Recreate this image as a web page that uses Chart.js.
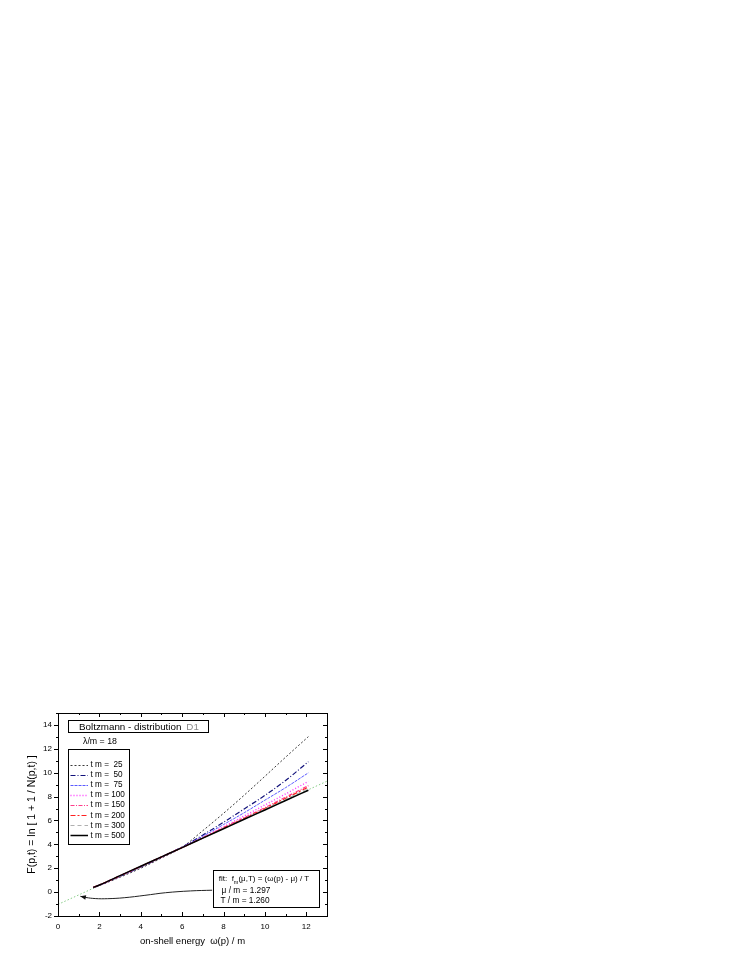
<!DOCTYPE html>
<html>
<head>
<meta charset="utf-8">
<script src="https://cdn.jsdelivr.net/npm/chart.js@4/dist/chart.umd.min.js"></script>
<style>
  html,body{margin:0;padding:0;background:#fff}
  #wrap{position:relative;width:747px;height:967px}
</style>
</head>
<body>
<div id="wrap"><canvas id="c" width="747" height="967"></canvas></div>
<script>
// omega(p)/m sample points of the simulation curves
const xs = [1.7, 2, 3, 4, 5, 6, 7, 8, 9, 10, 11, 12.1];

// F(p,t), one list per time t m
const tm25  = [0.38, 0.55, 1.25, 2.00, 2.85, 3.76, 5.15, 6.60, 8.12, 9.70, 11.30, 13.02];
const tm50  = [0.38, 0.57, 1.33, 2.10, 2.92, 3.78, 4.78, 5.85, 6.97, 8.10, 9.35, 10.92];
const tm75  = [0.38, 0.58, 1.34, 2.12, 2.93, 3.76, 4.68, 5.66, 6.65, 7.70, 8.75, 9.99];
const tm100 = [0.39, 0.59, 1.36, 2.14, 2.94, 3.74, 4.58, 5.48, 6.38, 7.30, 8.22, 9.28];
const tm150 = [0.39, 0.59, 1.37, 2.15, 2.94, 3.74, 4.55, 5.40, 6.24, 7.08, 7.95, 8.92];
const tm200 = [0.39, 0.60, 1.37, 2.16, 2.95, 3.73, 4.54, 5.36, 6.18, 7.00, 7.85, 8.80];
const tm300 = [0.39, 0.60, 1.38, 2.16, 2.95, 3.73, 4.53, 5.34, 6.15, 6.95, 7.78, 8.68];
const tm500 = [0.39, 0.60, 1.38, 2.17, 2.95, 3.73, 4.52, 5.31, 6.10, 6.88, 7.67, 8.53];

const labels = ["t m =  25","t m =  50","t m =  75","t m = 100","t m = 150","t m = 200","t m = 300","t m = 500"];
const curves = [tm25, tm50, tm75, tm100, tm150, tm200, tm300, tm500];

// fitted straight line (green dotted), end points
const fitX = [0, 13];
const fitY = [-1.03, 9.29];

// arrow from the fit box to the zero crossing
const arrowX = [7.45, 6.4, 5.2, 4.2, 3.2, 2.4, 1.8, 1.35, 1.08];
const arrowY = [0.16, 0.10, -0.05, -0.27, -0.47, -0.55, -0.54, -0.45, -0.35];

const xTicks = [0, 2, 4, 6, 8, 10, 12];
const yTicks = [-2, 0, 2, 4, 6, 8, 10, 12, 14];

const FONT = "'Liberation Sans', Arial, sans-serif";

const looks = [
  {color:"#3a3a3a", dash:[2,2],         width:1},
  {color:"#10107a", dash:[5,2,1,2],     width:1.2},
  {color:"#5a5aff", dash:[3,1],         width:1},
  {color:"#ff33ff", dash:[1,2],         width:1.4},
  {color:"#ff3d8a", dash:[4,1.5,1,1.5], width:1.2},
  {color:"#ff2020", dash:[5,2,2,2],     width:1.2},
  {color:"#b0b0b0", dash:[4,3],         width:1},
  {color:"#000000", dash:[],            width:1.5}
];

function pts(xv, yv){ return xv.map((x,i)=>({x, y:yv[i]})); }

const datasets = [];
curves.forEach((c,i)=>{
  datasets.push({
    label: labels[i],
    data: pts(xs, c),
    borderColor: looks[i].color,
    borderDash: looks[i].dash,
    borderWidth: looks[i].width,
    pointRadius: 0,
    cubicInterpolationMode: "monotone",
    order: curves.length - i
  });
});
datasets.push({
  label: "fit",
  data: pts(fitX, fitY),
  borderColor: "#86cc86",
  borderDash: [1.5,2],
  borderWidth: 1,
  pointRadius: 0,
  order: 20
});
datasets.push({
  label: "arrow",
  data: pts(arrowX, arrowY),
  borderColor: "#222",
  borderWidth: 1,
  pointRadius: 0,
  tension: 0.4,
  order: 0
});

// frame, inward ticks, boxes, legend and notes
const decor = {
  id: "decor",
  afterDraw(chart){
    const ctx = chart.ctx, a = chart.chartArea;
    const sx = chart.scales.x, sy = chart.scales.y;
    ctx.save();
    ctx.strokeStyle = "#000";
    ctx.lineWidth = 1;
    ctx.strokeRect(a.left+0.5, a.top+0.5, a.right-a.left, a.bottom-a.top);

    ctx.beginPath();
    for(let v=0; v<=13; v++){
      const p = Math.round(sx.getPixelForValue(v))+0.5;
      const len = v%2===0 ? 4 : 2;
      ctx.moveTo(p, a.bottom); ctx.lineTo(p, a.bottom-len);
      ctx.moveTo(p, a.top);    ctx.lineTo(p, a.top+len);
    }
    for(let v=-2; v<=15; v++){
      const p = Math.round(sy.getPixelForValue(v))+0.5;
      const len = v%2===0 ? 4 : 2;
      ctx.moveTo(a.left, p);  ctx.lineTo(a.left-len, p);
      ctx.moveTo(a.right, p); ctx.lineTo(a.right-len, p);
    }
    ctx.stroke();

    // arrow head at the end of the arrow curve
    const n = arrowX.length;
    const tx = sx.getPixelForValue(arrowX[n-1]), ty = sy.getPixelForValue(arrowY[n-1]);
    const bx = sx.getPixelForValue(arrowX[n-2]), by = sy.getPixelForValue(arrowY[n-2]);
    const ang = Math.atan2(ty-by, tx-bx);
    ctx.fillStyle = "#111";
    ctx.beginPath();
    ctx.moveTo(tx, ty);
    ctx.lineTo(tx - 6*Math.cos(ang-0.4), ty - 6*Math.sin(ang-0.4));
    ctx.lineTo(tx - 6*Math.cos(ang+0.4), ty - 6*Math.sin(ang+0.4));
    ctx.closePath();
    ctx.fill();

    // title box
    ctx.fillStyle = "#fff";
    ctx.fillRect(68.5, 720.5, 140, 12);
    ctx.strokeRect(68.5, 720.5, 140, 12);
    ctx.textBaseline = "middle";
    ctx.textAlign = "left";
    ctx.font = "9.8px " + FONT;
    ctx.fillStyle = "#000";
    ctx.fillText("Boltzmann - distribution", 79, 727);
    const w = ctx.measureText("Boltzmann - distribution").width;
    ctx.fillStyle = "#8a8a8a";
    ctx.fillText("D1", Math.max(79+w+5, 186), 727);

    ctx.fillStyle = "#000";
    ctx.font = "8.8px " + FONT;
    ctx.fillText("\u03bb/m = 18", 83, 742);

    // legend
    ctx.fillStyle = "#fff";
    ctx.fillRect(68.5, 749.5, 61, 95);
    ctx.strokeStyle = "#000";
    ctx.strokeRect(68.5, 749.5, 61, 95);
    ctx.font = "8.2px " + FONT;
    labels.forEach((lab,i)=>{
      const y = 765 + i*10.05;
      ctx.save();
      ctx.strokeStyle = looks[i].color;
      ctx.lineWidth = Math.max(1.2, looks[i].width);
      ctx.setLineDash(looks[i].dash);
      ctx.beginPath();
      ctx.moveTo(70.5, Math.round(y)+0.5);
      ctx.lineTo(88, Math.round(y)+0.5);
      ctx.stroke();
      ctx.restore();
      ctx.fillStyle = "#000";
      ctx.fillText(lab, 90.5, y);
    });

    // fit box
    ctx.fillStyle = "#fff";
    ctx.fillRect(213.5, 870.5, 106, 37);
    ctx.strokeRect(213.5, 870.5, 106, 37);
    ctx.fillStyle = "#000";
    ctx.font = "8px " + FONT;
    const p1 = "fit:  f", p2 = "(\u03bc,T) = (\u03c9(p) - \u03bc) / T";
    const w1 = ctx.measureText(p1).width, w2 = ctx.measureText(p2).width;
    ctx.font = "5.5px " + FONT;
    const ws = ctx.measureText("m").width;
    let x0 = 264 - (w1+ws+w2)/2;
    ctx.font = "8px " + FONT;
    ctx.fillText(p1, x0, 879);
    ctx.font = "5.5px " + FONT;
    ctx.fillText("m", x0+w1, 882);
    ctx.font = "8px " + FONT;
    ctx.fillText(p2, x0+w1+ws, 879);
    ctx.textAlign = "center";
    ctx.font = "8.3px " + FONT;
    ctx.fillText("\u03bc / m = 1.297", 246, 891);
    ctx.fillText("T / m = 1.260", 245, 901);
    ctx.restore();
  }
};

new Chart(document.getElementById("c"), {
  type: "line",
  data: { datasets },
  options: {
    responsive: false,
    animation: false,
    devicePixelRatio: 1,
    layout: { padding: { left: 0, top: 713, right: 420, bottom: 0 } },
    plugins: { legend: { display: false }, tooltip: { enabled: false } },
    scales: {
      x: {
        type: "linear", min: 0, max: 13,
        afterFit: s => { s.height = 51; },
        afterBuildTicks: s => { s.ticks = xTicks.map(v=>({value:v})); },
        grid: { display: false, drawTicks: false },
        border: { display: false },
        ticks: { color: "#000", font: { family: FONT, size: 8 }, padding: 6, maxRotation: 0, autoSkip: false },
        title: { display: true, text: "on-shell energy  \u03c9(p) / m", color: "#000",
                 font: { family: FONT, size: 9.5 }, padding: { top: 0, bottom: 20 } }
      },
      y: {
        type: "linear", min: -2, max: 15,
        afterFit: s => { s.width = 58; },
        afterBuildTicks: s => { s.ticks = yTicks.map(v=>({value:v})); },
        grid: { display: false, drawTicks: false },
        border: { display: false },
        ticks: { color: "#000", font: { family: FONT, size: 8 }, padding: 6, autoSkip: false },
        title: { display: true, text: "F(p,t) = ln [ 1 + 1 / N(p,t) ]", color: "#000",
                 font: { family: FONT, size: 10.5 }, padding: { top: 26, bottom: 0 } }
      }
    }
  },
  plugins: [decor]
});
</script>
</body>
</html>
